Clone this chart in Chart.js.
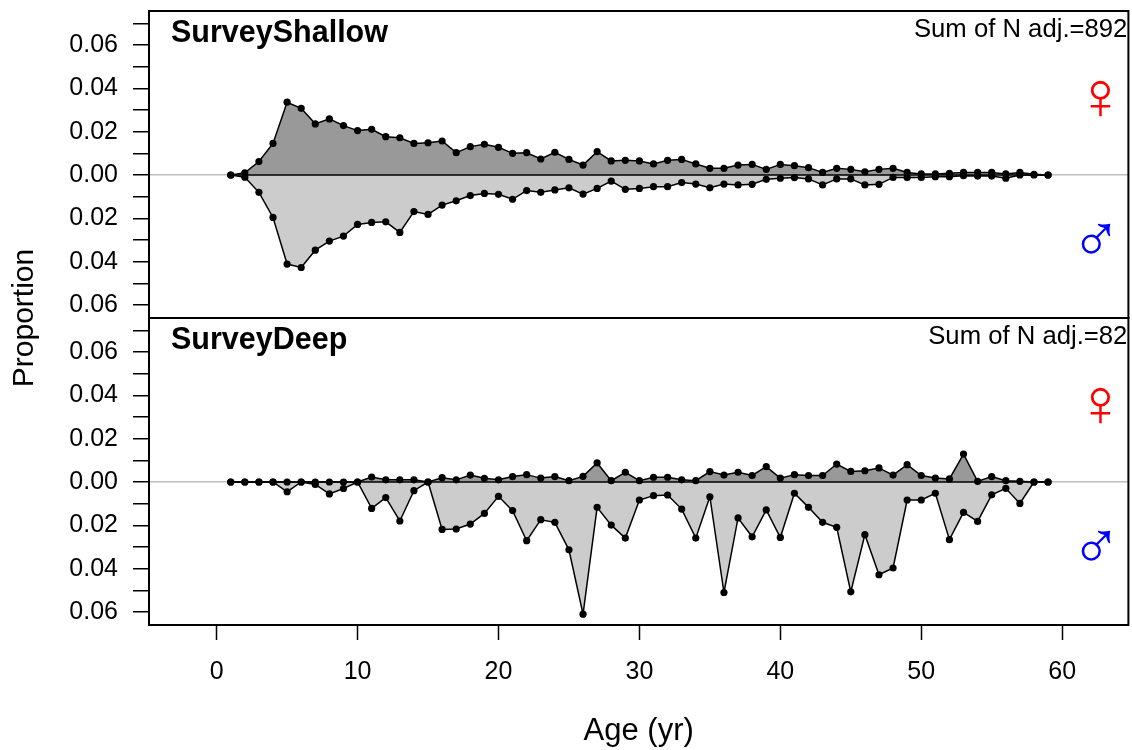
<!DOCTYPE html>
<html><head><meta charset="utf-8">
<script src="https://cdn.jsdelivr.net/npm/chart.js@4/dist/chart.umd.min.js"></script>
<style>html,body{margin:0;padding:0;background:#fff}canvas{display:block}</style>
</head><body>
<canvas id="c" width="1132" height="750" style="width:1132px;height:750px"></canvas>
<script>
// ---- data ----
const ages = [1,2,3,4,5,6,7,8,9,10,11,12,13,14,15,16,17,18,19,20,21,22,23,24,25,26,27,28,29,30,
  31,32,33,34,35,36,37,38,39,40,41,42,43,44,45,46,47,48,49,50,51,52,53,54,55,56,57,58,59];
const shallowFemale = [0,0.001,0.0062,0.0146,0.0336,0.0308,0.0236,0.0259,0.0228,0.0205,
  0.0211,0.0177,0.0172,0.0146,0.0149,0.0157,0.0103,0.0131,0.0142,0.0128,
  0.0100,0.0103,0.0074,0.0105,0.0072,0.0046,0.0108,0.0065,0.0068,0.0065,
  0.0051,0.0068,0.0072,0.0051,0.0031,0.0031,0.0046,0.0049,0.0026,0.0049,
  0.0043,0.0034,0.0012,0.0031,0.0026,0.0015,0.0026,0.0031,0.0012,0.0005,
  0.0005,0.0008,0.0012,0.0012,0.0012,0.0005,0.0012,0.0003,0];
const shallowMale = [0,0.001,0.008,0.0196,0.0411,0.0427,0.0347,0.0305,0.0282,0.0228,
  0.0219,0.0216,0.0265,0.0169,0.0182,0.0139,0.0119,0.0095,0.0085,0.0089,
  0.0112,0.0072,0.0080,0.0069,0.0059,0.0088,0.0062,0.0028,0.0066,0.0062,
  0.0054,0.0054,0.0035,0.0042,0.0059,0.0042,0.0046,0.0043,0.0020,0.0015,
  0.0012,0.0018,0.0046,0.0018,0.0018,0.0046,0.0043,0.0011,0.0011,0.0011,
  0.0008,0.0008,0.0003,0.0005,0.0005,0.0015,0,0,0];
const deepFemale = [0,0,0,0,0,0,0,0,0,0,
  0.0023,0.001,0.001,0.001,0,0.002,0.001,0.0032,0.0017,0.001,
  0.0025,0.0034,0.0018,0.0025,0.0006,0.0026,0.0088,0.0006,0.0045,0.0006,
  0.0022,0.0022,0.001,0.0006,0.0048,0.0032,0.0045,0.003,0.0071,0.0018,
  0.0034,0.003,0.003,0.0083,0.0049,0.0052,0.0065,0.0032,0.008,0.003,
  0.0018,0.0014,0.0129,0.0003,0.0025,0.0006,0.0003,0,0];
const deepMale = [0,0,0,0,0.0045,0,0.0011,0.0055,0.003,0,
  0.0122,0.0072,0.018,0.004,0,0.0219,0.0217,0.0194,0.0145,0.0066,
  0.0132,0.0271,0.0174,0.0186,0.0313,0.0610,0.0117,0.0199,0.0259,0.0083,
  0.0063,0.006,0.0125,0.0259,0.0068,0.051,0.0166,0.0253,0.0129,0.0256,
  0.0052,0.0117,0.0186,0.0209,0.0507,0.0243,0.0428,0.0397,0.0083,0.0083,
  0.0052,0.0266,0.014,0.0182,0.0059,0.0029,0.0099,0,0];
const panelTitles = ['SurveyShallow', 'SurveyDeep'];
const sumLabels = ['Sum of N adj.=892', 'Sum of N adj.=82'];
const xTitle = 'Age (yr)';
const yTitle = 'Proportion';

// ---- helpers ----
function series(vals, sign) { return ages.map((a, i) => ({x: a, y: sign * vals[i]})); }
const FONT = "'Liberation Sans', Arial, sans-serif";

function areaSet(vals, sign, axis, fillColor) {
  return {
    data: series(vals, sign), yAxisID: axis,
    fill: 'origin', backgroundColor: fillColor,
    borderColor: '#000', borderWidth: 1.5, tension: 0,
    pointRadius: 3.6, pointHoverRadius: 3.6, pointBackgroundColor: '#000', pointBorderWidth: 0
  };
}
function zeroSet(axis) {
  return {
    data: ages.map(a => ({x: a, y: 0})), yAxisID: axis, fill: false,
    borderColor: '#000', borderWidth: 1.5, pointRadius: 0
  };
}

function yScale(weight) {
  return {
    type: 'linear', position: 'left', stack: 'panels', stackWeight: 1, weight: weight,
    min: -0.066, max: 0.0757, offset: false,
    ticks: {
      stepSize: 0.01, includeBounds: false, autoSkip: false, maxTicksLimit: 20,
      color: '#000', font: {family: FONT, size: 25}, padding: 15,
      callback: v => (Math.round(v * 100) % 2 === 0) ? Math.abs(v).toFixed(2) : ''
    },
    grid: {
      drawOnChartArea: true, drawTicks: true, tickLength: 16, tickColor: '#000', tickWidth: 1.5,
      lineWidth: 1.5,
      color: ctx => (ctx.tick && Math.abs(ctx.tick.value) < 1e-9) ? '#bebebe' : 'rgba(0,0,0,0)'
    },
    border: {display: false},
    afterFit: s => { s.width = 149; s.paddingTop = 0; s.paddingBottom = 0; }
  };
}

const decor = {
  id: 'decor',
  afterDraw(chart) {
    const ctx = chart.ctx, ca = chart.chartArea;
    const panels = [chart.scales.yTop, chart.scales.yBot];
    const xs = chart.scales.x;
    ctx.save();
    panels.forEach((s, i) => {
      ctx.lineWidth = 2; ctx.strokeStyle = '#000';
      ctx.strokeRect(ca.left, s.top, ca.right - ca.left, s.bottom - s.top);
      ctx.fillStyle = '#000';
      ctx.textBaseline = 'alphabetic';
      ctx.font = 'bold 30.5px ' + FONT; ctx.textAlign = 'left';
      ctx.fillText(panelTitles[i], ca.left + 22, s.top + 31);
      ctx.font = '25.7px ' + FONT; ctx.textAlign = 'right';
      ctx.fillText(sumLabels[i], ca.right - 1, s.top + 25.5);
      ctx.textAlign = 'center'; ctx.textBaseline = 'middle';
      ctx.font = '68px ' + FONT;
      ctx.fillStyle = '#ff0000';
      ctx.fillText('\u2640', xs.getPixelForValue(62.7), s.getPixelForValue(0.0346));
      ctx.fillStyle = '#0000ff';
      ctx.fillText('\u2642', xs.getPixelForValue(62.4), s.getPixelForValue(-0.0314));
    });
    ctx.fillStyle = '#000';
    ctx.font = '30px ' + FONT;
    ctx.translate(25, (ca.top + ca.bottom) / 2);
    ctx.rotate(-Math.PI / 2);
    ctx.textAlign = 'center'; ctx.textBaseline = 'middle';
    ctx.fillText(yTitle, 0, 0);
    ctx.restore();
  }
};

new Chart(document.getElementById('c'), {
  type: 'line',
  data: {
    datasets: [
      zeroSet('yTop'), zeroSet('yBot'),
      areaSet(shallowFemale, 1, 'yTop', '#999999'),
      areaSet(shallowMale, -1, 'yTop', '#cccccc'),
      areaSet(deepFemale, 1, 'yBot', '#999999'),
      areaSet(deepMale, -1, 'yBot', '#cccccc')
    ]
  },
  options: {
    responsive: false, animation: false, devicePixelRatio: 1,
    layout: {padding: {left: 0, top: 11, right: 2, bottom: 0}},
    plugins: {legend: {display: false}, tooltip: {enabled: false}, filler: {drawTime: 'beforeDatasetsDraw'}},
    scales: {
      x: {
        type: 'linear', min: -4.8, max: 64.7,
        ticks: {stepSize: 10, includeBounds: false, autoSkip: false, maxRotation: 0,
          color: '#000', font: {family: FONT, size: 25}, padding: 17},
        grid: {drawOnChartArea: false, drawTicks: true, tickLength: 15, tickColor: '#000', tickWidth: 1.5},
        border: {display: false},
        title: {display: true, text: xTitle, color: '#000', font: {family: FONT, size: 31}, padding: {top: 0, bottom: 0}},
        afterFit: s => { s.height = 125; s.paddingLeft = 0; s.paddingRight = 0; }
      },
      yBot: yScale(1),
      yTop: yScale(2)
    }
  },
  plugins: [decor]
});
</script>
</body></html>
